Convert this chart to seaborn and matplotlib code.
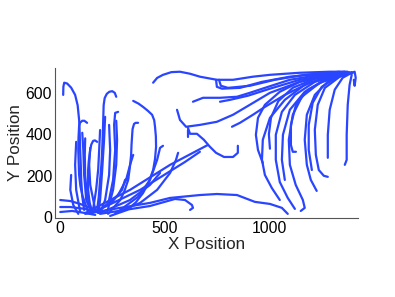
import pandas as pd
import matplotlib
matplotlib.use("Agg")
import matplotlib.pyplot as plt
import seaborn as sns

# trajectories, (x, y) in data units
left_tracks = [
    [(14, 590), (15, 630), (19, 649), (33, 645), (52, 625), (71, 590), (83, 540), (90, 469),
     (93, 400), (95, 324), (98, 250), (100, 179), (105, 100), (114, 34)],
    [(128, 455), (115, 465), (105, 465), (94, 455), (90, 440), (87, 380), (86, 324), (88, 260),
     (90, 203), (96, 150), (105, 106), (133, 24)],
    [(105, 407), (110, 324), (114, 203), (124, 82), (152, 15)],
    [(176, 363), (166, 370), (157, 368), (148, 350), (143, 324), (136, 270), (133, 227),
     (133, 131), (140, 70), (152, 24)],
    [(143, 334), (138, 252), (143, 155), (167, 34)],
    [(119, 380), (117, 300), (119, 200), (128, 100), (152, 20)],
    [(190, 420), (186, 330), (181, 230), (171, 130), (157, 40)],
    [(267, 581), (260, 600), (248, 608), (234, 605), (222, 595), (212, 575), (207, 540),
     (205, 469), (203, 400), (200, 324), (196, 250), (190, 179), (184, 100), (176, 34)],
    [(214, 484), (209, 373), (200, 227), (190, 82), (181, 19)],
    [(233, 445), (238, 324), (233, 203), (214, 82), (190, 19)],
    [(276, 508), (262, 503), (257, 445), (262, 324), (252, 179), (228, 58)],
    [(267, 465), (271, 373), (267, 252), (252, 131), (224, 24)],
    [(371, 455), (360, 455), (352, 450), (345, 425), (343, 397), (340, 350), (338, 300),
     (332, 240), (324, 179), (306, 125), (286, 82), (228, 15)],
    [(348, 561), (373, 548), (395, 532), (418, 513), (438, 494), (448, 468), (452, 436),
     (456, 390), (457, 339), (452, 280), (443, 227), (423, 170), (395, 116), (360, 70),
     (319, 34), (238, 5)],
    [(490, 344), (476, 334), (462, 276), (428, 179), (371, 97), (286, 34)],
    [(562, 310), (552, 276), (524, 213), (462, 131), (381, 68), (262, 19)],
    [(119, 19), (333, 131), (524, 252), (704, 348)],
    [(143, 15), (381, 131), (595, 266), (666, 315)],
    [(119, 15), (286, 44), (428, 68), (524, 92), (666, 106), (747, 111), (843, 106),
     (928, 73), (1000, 63), (1057, 44), (1085, 15)],
    [(190, 15), (428, 53), (547, 87), (595, 82), (628, 58), (633, 44), (619, 34)],
    [(324, 189), (309, 179), (295, 131), (248, 73), (167, 24)],
    [(348, 300), (333, 252), (314, 179), (276, 106), (190, 34)],
    [(476, 213), (428, 155), (333, 82), (190, 19)],
    [(76, 363), (71, 252), (76, 131), (95, 24)],
    [(52, 203), (48, 131), (62, 58), (86, 15)],
    [(0, 82), (48, 77), (95, 63), (167, 34)],
    [(0, 48), (48, 48), (119, 39), (190, 19)],
    [(0, 24), (57, 29), (119, 19), (167, 10)],
]

middle_tracks = [
    [(443, 649), (462, 672), (490, 687), (530, 700), (571, 702), (620, 692), (666, 678),
     (747, 663), (824, 663), (919, 678), (1000, 687), (1142, 697), (1285, 702), (1371, 702)],
    [(743, 663), (747, 629), (771, 620), (857, 624), (962, 653), (1095, 678), (1238, 692), (1357, 702)],
    [(757, 663), (766, 634), (800, 624), (904, 634), (1023, 663), (1166, 687), (1333, 702)],
    [(633, 557), (681, 576), (762, 576), (843, 581), (904, 600), (976, 624), (1095, 663),
     (1238, 687), (1357, 697)],
    [(762, 557), (809, 566), (895, 586), (1000, 620), (1142, 663), (1285, 687), (1380, 697)],
    [(557, 518), (571, 469), (600, 436), (666, 445), (747, 460), (824, 494), (904, 542),
     (1000, 600), (1142, 653), (1285, 682), (1380, 697)],
    [(819, 436), (857, 455), (919, 494), (976, 532), (1071, 590), (1190, 649), (1309, 682), (1390, 697)],
    [(609, 431), (619, 402), (652, 402), (685, 373), (714, 339), (743, 310), (781, 290),
     (824, 290), (847, 310), (847, 344)],
    [(609, 421), (609, 387)],
]

right_tracks = [
    [(966, 261), (943, 324), (933, 397), (943, 479), (976, 542), (1047, 605), (1142, 653), (1262, 687), (1380, 697)],
    [(1047, 82), (1009, 140), (976, 203), (962, 276), (966, 373), (1000, 479), (1071, 566),
     (1166, 639), (1285, 682), (1390, 697)],
    [(1000, 330), (995, 400), (1005, 480), (1040, 560), (1110, 625), (1220, 670), (1330, 692), (1390, 698)],
    [(1119, 39), (1085, 92), (1047, 169), (1028, 276), (1028, 397), (1057, 508), (1119, 590),
     (1214, 653), (1323, 687), (1395, 697)],
    [(1147, 29), (1166, 44), (1157, 82), (1123, 155), (1095, 252), (1090, 373), (1109, 494),
     (1152, 581), (1238, 649), (1357, 687)],
    [(1124, 315), (1109, 315), (1100, 348), (1100, 445), (1124, 542), (1181, 615), (1285, 673), (1380, 697)],
    [(1223, 126), (1195, 179), (1176, 252), (1166, 373), (1176, 494), (1214, 590), (1285, 663), (1380, 697)],
    [(1276, 194), (1257, 199), (1233, 227), (1219, 300), (1214, 421), (1228, 542), (1262, 624),
     (1333, 678), (1390, 697)],
    [(1276, 286), (1276, 397), (1285, 518), (1309, 615), (1347, 673), (1390, 697)],
    [(1357, 252), (1366, 276), (1366, 397), (1371, 542), (1380, 639), (1390, 687)],
    [(1200, 227), (1185, 324), (1185, 445), (1204, 552), (1247, 629), (1323, 678), (1390, 697)],
    [(1071, 179), (1057, 276), (1062, 397), (1095, 518), (1166, 605), (1262, 663), (1371, 697)],
    [(1390, 697), (1404, 702), (1409, 673), (1404, 634), (1400, 663)],
]

rows = []
for i, track in enumerate(left_tracks + middle_tracks + right_tracks):
    for j, (x, y) in enumerate(track):
        rows.append({"track": i, "step": j, "x": x, "y": y})
df = pd.DataFrame(rows)

sns.set_style("white")
plt.rcParams["font.family"] = ["Liberation Sans", "DejaVu Sans"]

fig = plt.figure(figsize=(3.95, 2.97), dpi=100)
ax = fig.add_axes([55 / 395, 1 - 218 / 297, 303 / 395, 150 / 297])

sns.lineplot(data=df, x="x", y="y", units="track", estimator=None, sort=False,
             color="#2a45ff", linewidth=1.6, legend=False, ax=ax,
             solid_capstyle="round", solid_joinstyle="round")

ax.set_xlim(-25, 1420)
ax.set_ylim(-5, 720)
ax.set_xticks([0, 500, 1000])
ax.set_yticks([0, 200, 400, 600])
ax.set_xlabel("X Position", fontsize=12.3, labelpad=1)
ax.set_ylabel("Y Position", fontsize=12.3, labelpad=2)
ax.tick_params(direction="in", length=3, width=0.6, labelsize=11.3, colors="#555555",
               labelcolor="black", pad=2)
for side in ["top", "right"]:
    ax.spines[side].set_visible(False)
for side in ["left", "bottom"]:
    ax.spines[side].set_color("#555555")
    ax.spines[side].set_linewidth(0.8)

fig.savefig("out.png", dpi=100)
